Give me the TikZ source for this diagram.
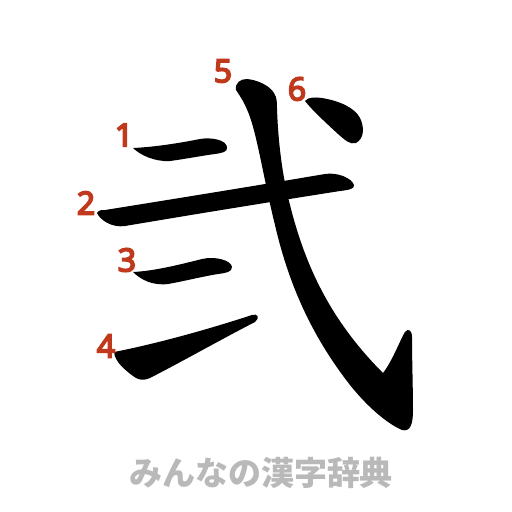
\documentclass[tikz,border=0pt]{standalone}
\usepackage{fontspec}
\newfontfamily\numfont{Noto Sans}[FakeBold=5]
\newfontfamily\cjkfont{Noto Sans CJK JP}
\definecolor{numred}{RGB}{192,57,28}
\definecolor{footgray}{RGB}{185,185,185}
\begin{document}
\begin{tikzpicture}[x=1pt,y=-1pt,
  stroke/.style={fill=black,draw=none},
  numlabel/.style={inner sep=0pt,text=numred,font=\numfont\fontsize{32}{32}\selectfont},
  foot/.style={inner sep=0pt,text=footgray,font=\cjkfont\bfseries\fontsize{33}{33}\selectfont}]
\useasboundingbox[fill=white] (0,0) rectangle (512,512);
% stroke 1
\path[stroke] (133,148) .. controls (155,147) and (180,143) .. (200,139)
  .. controls (212,137) and (226,140) .. (227,147)
  .. controls (228,152) and (222,153) .. (215,154)
  .. controls (200,156) and (185,159) .. (170,161)
  .. controls (155,162) and (140,155) .. cycle;
% stroke 2
\path[stroke] (97,213) .. controls (99,210) and (101,210) .. (105,210)
  .. controls (180,198) and (260,185) .. (325,174)
  .. controls (337,172) and (352,178) .. (354,185)
  .. controls (355,189) and (348,190) .. (340,191)
  .. controls (270,202) and (190,215) .. (125,226)
  .. controls (112,228) and (100,220) .. cycle;
% stroke 3
\path[stroke] (133,272) .. controls (155,271) and (182,264) .. (202,259)
  .. controls (215,256) and (231,260) .. (232,267)
  .. controls (232,272) and (226,273) .. (218,274)
  .. controls (200,277) and (185,281) .. (168,284)
  .. controls (152,286) and (140,279) .. cycle;
% stroke 4
\path[stroke] (114,352) .. controls (150,345) and (200,332) .. (252,315)
  .. controls (258,313) and (260,318) .. (255,322)
  .. controls (220,340) and (185,360) .. (150,378)
  .. controls (143,381) and (138,380) .. (133,376)
  .. controls (125,370) and (115,362) .. cycle;
% stroke 5
\path[stroke] (236,90) .. controls (235,83) and (240,79) .. (247,79)
  .. controls (258,80) and (270,86) .. (274,93)
  .. controls (277,98) and (277,102) .. (277,108)
  .. controls (278,140) and (282,175) .. (290,205)
  .. controls (305,265) and (330,320) .. (383,373)
  .. controls (393,360) and (400,340) .. (405,332)
  .. controls (408,328) and (412,330) .. (412,337)
  .. controls (412,360) and (413,390) .. (413,410)
  .. controls (413,425) and (410,432) .. (402,430)
  .. controls (390,425) and (370,410) .. (350,385)
  .. controls (315,340) and (290,290) .. (275,225)
  .. controls (265,185) and (258,140) .. (250,117)
  .. controls (245,103) and (240,96) .. cycle;
% stroke 6
\path[stroke] (305,101) .. controls (308,97) and (315,97) .. (322,98)
  .. controls (340,101) and (355,108) .. (360,118)
  .. controls (364,126) and (365,138) .. (356,143)
  .. controls (350,145) and (345,140) .. (338,134)
  .. controls (325,122) and (312,110) .. cycle;
% labels
\node[numlabel] (n1) at (124,135) {1};
\node[numlabel] (n2) at (86,203) {2};
\node[numlabel] (n3) at (127,260) {3};
\node[numlabel] (n4) at (106,346) {4};
\node[numlabel] (n5) at (223,71) {5};
\node[numlabel] (n6) at (297,89) {6};
\node[foot] (title) at (261,473) {みんなの漢字辞典};
\end{tikzpicture}
\end{document}
